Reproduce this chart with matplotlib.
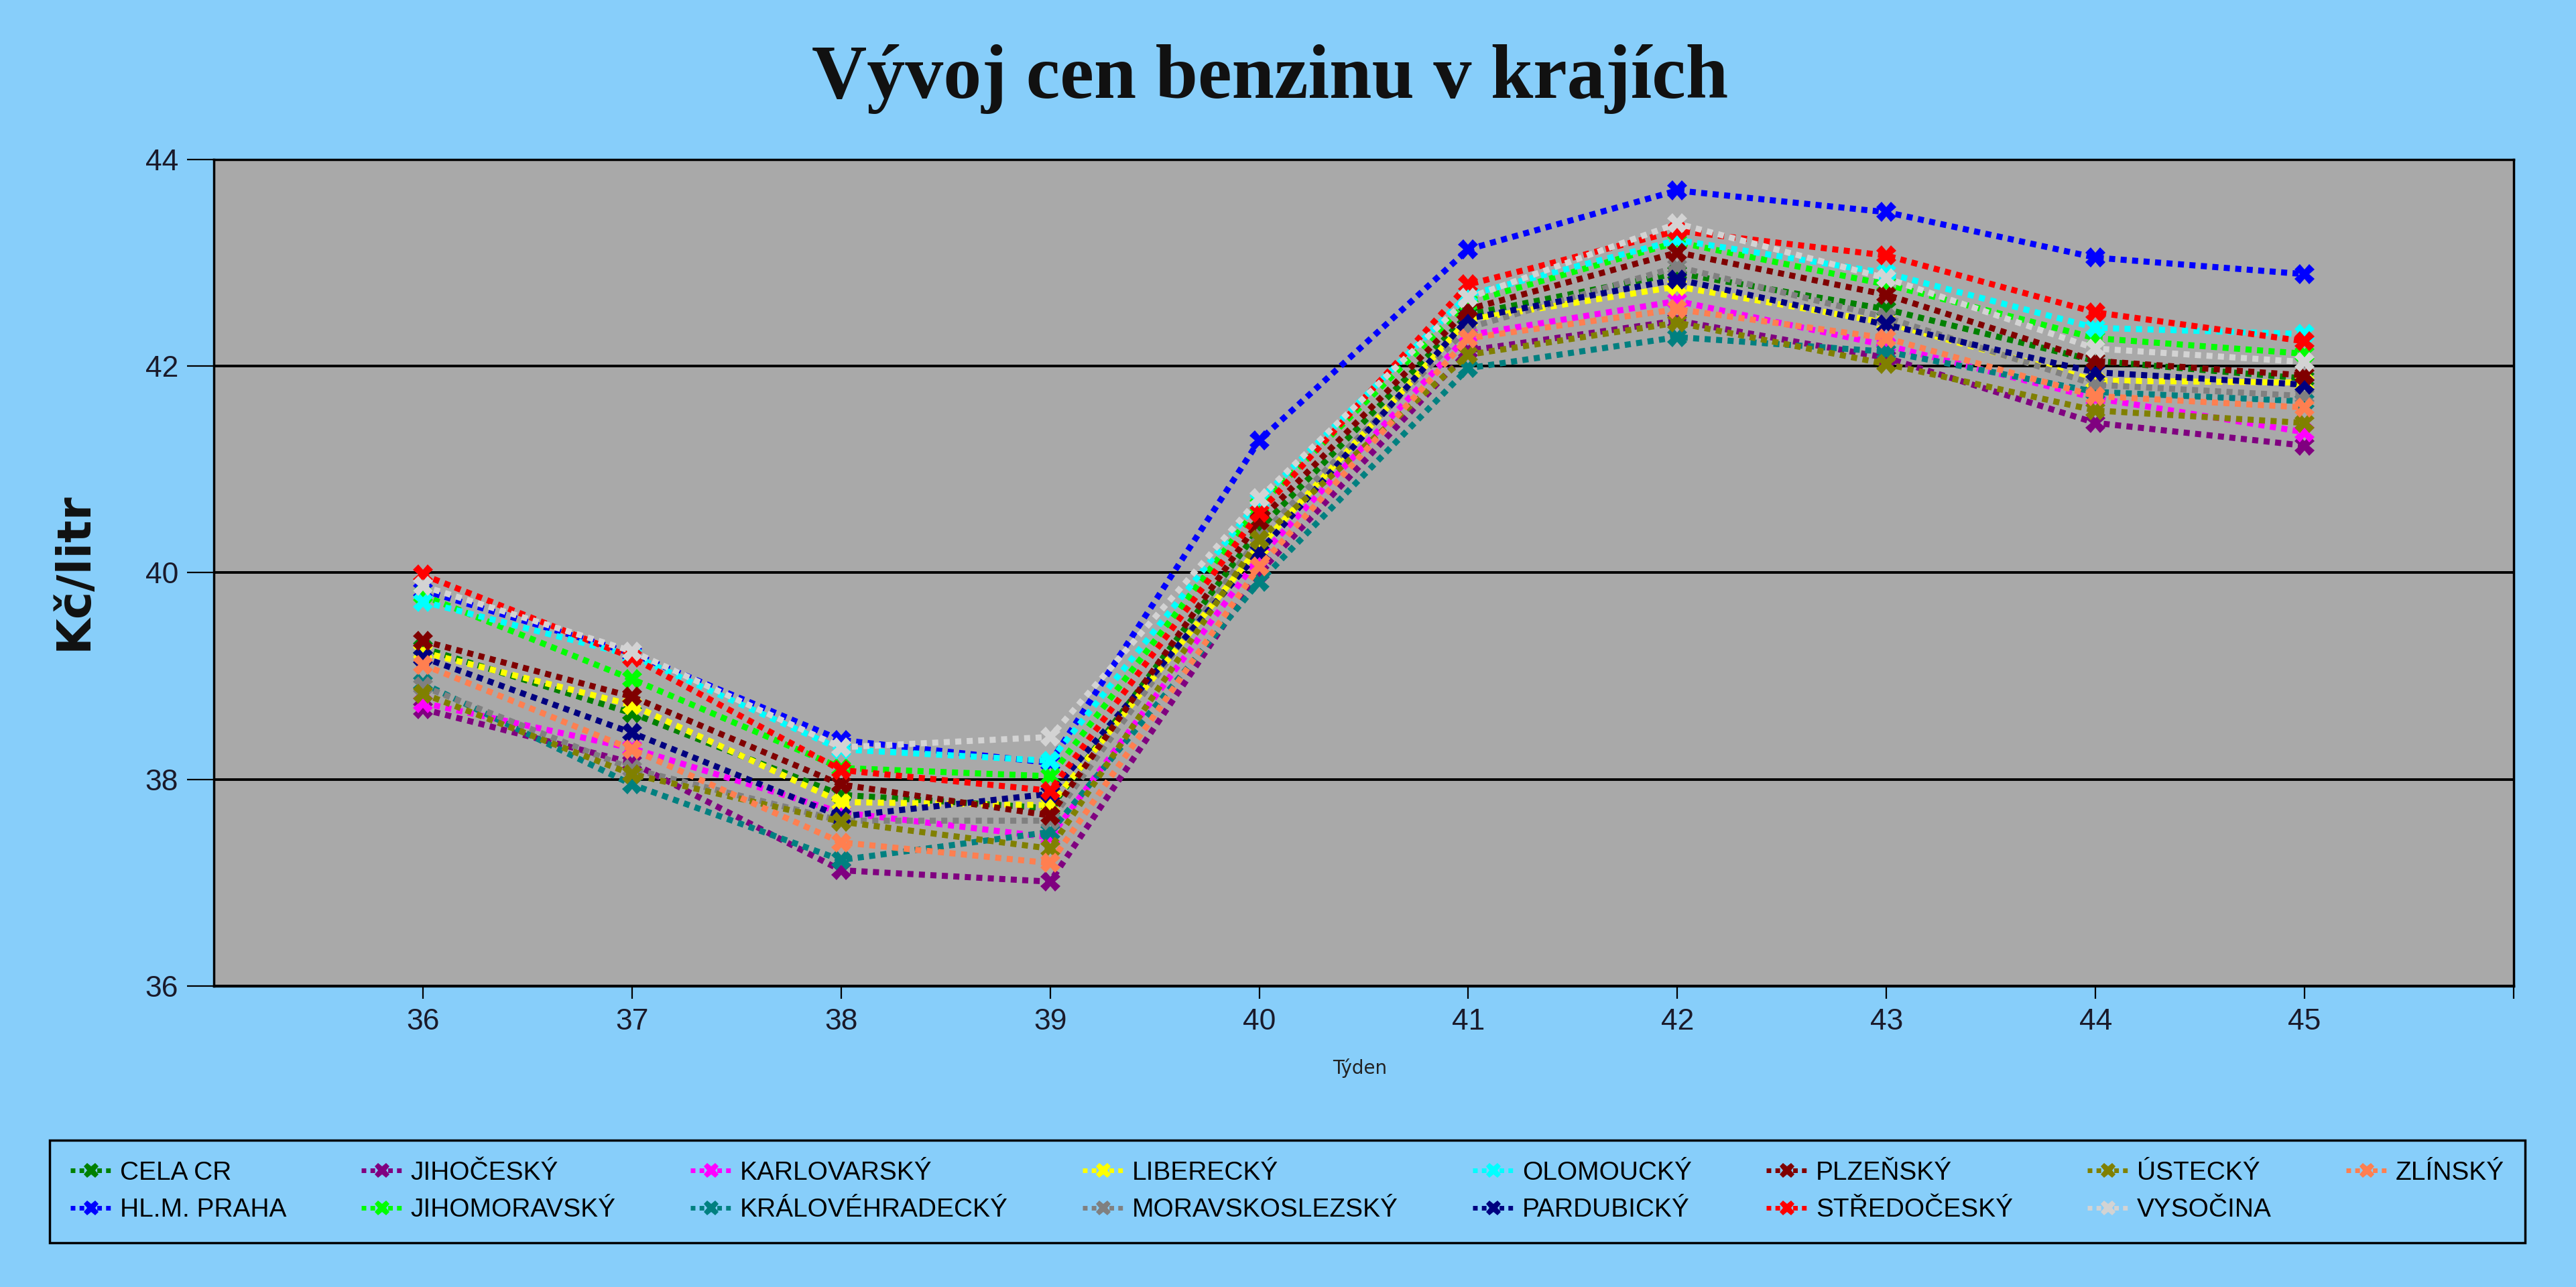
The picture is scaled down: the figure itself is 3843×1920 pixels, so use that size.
import matplotlib
matplotlib.use('Agg')
import matplotlib.pyplot as plt

weeks = [36, 37, 38, 39, 40, 41, 42, 43, 44, 45]

regions = ['CELA CR', 'HL.M. PRAHA', 'JIHOČESKÝ', 'JIHOMORAVSKÝ', 'KARLOVARSKÝ',
           'KRÁLOVÉHRADECKÝ', 'LIBERECKÝ', 'MORAVSKOSLEZSKÝ', 'OLOMOUCKÝ',
           'PARDUBICKÝ', 'PLZEŇSKÝ', 'STŘEDOČESKÝ', 'ÚSTECKÝ', 'VYSOČINA', 'ZLÍNSKÝ']

colors = ['#008000', '#0000FF', '#800080', '#00FF00', '#FF00FF',
          '#008080', '#FFFF00', '#808080', '#00FFFF',
          '#000080', '#800000', '#FF0000', '#808000', '#D3D3D3', '#FF7F50']

cela_cr         = [39.27, 38.64, 37.85, 37.72, 40.42, 42.50, 42.90, 42.55, 42.05, 41.88]
praha           = [39.83, 39.22, 38.38, 38.16, 41.28, 43.13, 43.70, 43.49, 43.05, 42.89]
jihocesky       = [38.68, 38.16, 37.12, 37.01, 40.00, 42.15, 42.44, 42.08, 41.45, 41.23]
jihomoravsky    = [39.78, 38.97, 38.11, 38.03, 40.65, 42.62, 43.20, 42.79, 42.27, 42.12]
karlovarsky     = [38.74, 38.30, 37.68, 37.44, 40.15, 42.30, 42.63, 42.20, 41.69, 41.36]
kralovehradecky = [38.93, 37.95, 37.22, 37.49, 39.91, 41.98, 42.28, 42.14, 41.75, 41.66]
liberecky       = [39.23, 38.72, 37.78, 37.75, 40.25, 42.45, 42.77, 42.42, 41.86, 41.84]
moravskoslezsky = [38.90, 38.10, 37.60, 37.60, 40.35, 42.37, 42.96, 42.47, 41.82, 41.71]
olomoucky       = [39.72, 39.20, 38.29, 38.18, 40.70, 42.69, 43.22, 42.90, 42.37, 42.31]
pardubicky      = [39.18, 38.45, 37.64, 37.86, 40.20, 42.46, 42.84, 42.40, 41.94, 41.82]
plzensky        = [39.34, 38.80, 37.95, 37.65, 40.50, 42.55, 43.10, 42.69, 42.05, 41.91]
stredocesky     = [39.98, 39.18, 38.09, 37.89, 40.58, 42.79, 43.31, 43.07, 42.52, 42.24]
ustecky         = [38.83, 38.05, 37.59, 37.33, 40.32, 42.11, 42.42, 42.02, 41.57, 41.45]
vysocina        = [39.87, 39.24, 38.31, 38.41, 40.72, 42.66, 43.38, 42.85, 42.17, 42.04]
zlinsky         = [39.11, 38.29, 37.39, 37.19, 40.06, 42.27, 42.55, 42.27, 41.71, 41.60]

series = [cela_cr, praha, jihocesky, jihomoravsky, karlovarsky, kralovehradecky,
          liberecky, moravskoslezsky, olomoucky, pardubicky, plzensky, stredocesky,
          ustecky, vysocina, zlinsky]

x_ticks = [36, 37, 38, 39, 40, 41, 42, 43, 44, 45, 46]
x_tick_labels = ['36', '37', '38', '39', '40', '41', '42', '43', '44', '45', '']
y_ticks = [36, 38, 40, 42, 44]

title = 'Vývoj cen benzinu v krajích'
ylabel = 'Kč/litr'
xlabel = 'Týden'

sans = ['Liberation Sans', 'DejaVu Sans']
BG = '#87CEFA'

fig = plt.figure(figsize=(38.43, 19.20), dpi=100, facecolor=BG)
ax = fig.add_axes([0.0830, 0.2339, 0.8928, 0.6422])
ax.set_facecolor('#A9A9A9')

for name, vals, col in zip(regions, series, colors):
    ax.plot(weeks, vals, color=col, lw=6.5, linestyle=(0, (1, 0.9)),
            marker='X', markersize=21, markeredgewidth=0, label=name)

ax.set_xlim(35, 46)
ax.set_ylim(36, 44)
ax.set_xticks(x_ticks)
ax.set_xticklabels(x_tick_labels, fontfamily=sans, fontsize=32, color='#1a1a2a')
ax.set_yticks(y_ticks)
ax.set_yticklabels([str(v) for v in y_ticks], fontfamily=sans, fontsize=32, color='#1a1a2a')
ax.tick_params(axis='y', length=29, width=1.6, pad=9, color='black')
ax.tick_params(axis='x', length=14, width=1.6, pad=10, color='black')
ax.grid(axis='y', color='black', lw=2.8)
ax.set_axisbelow(True)
for s in ax.spines.values():
    s.set_color('black')
    s.set_linewidth(2.5)

fig.text(0.493, 0.9385, title, ha='center', va='center', fontsize=82,
         fontweight='bold', fontfamily=['Liberation Serif', 'DejaVu Serif'], color='#111111')
fig.text(0.0286, 0.556, ylabel, ha='center', va='center', rotation=90, fontsize=50,
         fontweight='bold', fontfamily='DejaVu Sans', color='#111111')
fig.text(0.528, 0.170, xlabel, ha='center', va='center', fontsize=20,
         fontfamily='DejaVu Sans', color='#222222')

leg = ax.legend(loc='center', ncol=8, mode='expand',
                bbox_to_anchor=(0.0193, 0.0302, 0.961, 0.088),
                bbox_transform=fig.transFigure, borderaxespad=0,
                prop={'family': sans, 'size': 28},
                handlelength=1.6, handletextpad=0.3, borderpad=0.8,
                labelspacing=0.5, columnspacing=1.0,
                frameon=True, fancybox=False, framealpha=1,
                facecolor=BG, edgecolor='black')
leg.get_frame().set_linewidth(2.5)
for h in leg.legend_handles:
    h.set_markersize(16)
    h.set_linewidth(5)

fig.savefig('out.png', dpi=100, facecolor=BG)
